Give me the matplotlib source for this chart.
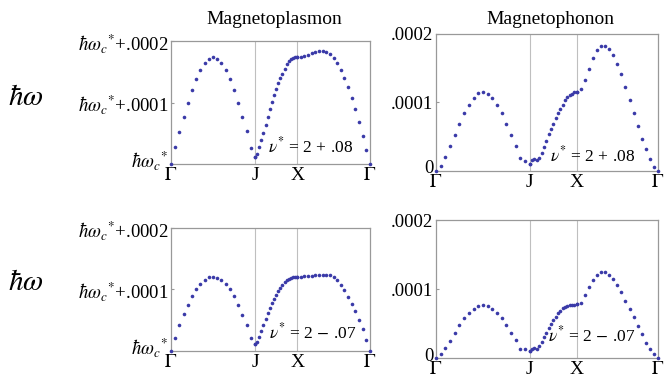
import numpy as np
import matplotlib
matplotlib.use('Agg')
import matplotlib.pyplot as plt
import matplotlib.transforms as mtransforms

plt.rcParams['font.family'] = ['Liberation Serif', 'DejaVu Serif']
plt.rcParams['mathtext.fontset'] = 'stix'

# k-path nodes: Gamma -> J -> X -> Gamma
NODE_POS = [0.0, 1.0, 1.5, 1.5 + np.sqrt(3) / 2]
NODE_LABELS = [r'$\Gamma$', 'J', 'X', r'$\Gamma$']
PTS_PER_SEG = 21

# energies in units of 1e-4 (above hbar*omega_c* for the plasmon panels)
plasmon_p08 = [
    [0.0, 0.27, 0.52, 0.77, 1.00, 1.21, 1.39, 1.53, 1.65, 1.71, 1.74,
     1.71, 1.65, 1.53, 1.39, 1.21, 1.00, 0.77, 0.53, 0.26, 0.12],
    [0.12, 0.16, 0.27, 0.39, 0.51, 0.64, 0.77, 0.90, 1.01, 1.12, 1.22,
     1.31, 1.40, 1.47, 1.55, 1.62, 1.67, 1.70, 1.72, 1.74, 1.74],
    [1.74, 1.745, 1.76, 1.78, 1.80, 1.82, 1.83, 1.83, 1.82, 1.79, 1.72,
     1.64, 1.53, 1.40, 1.25, 1.07, 0.89, 0.68, 0.455, 0.23, 0.0],
]
phonon_p08 = [
    [0.0, 0.073, 0.20, 0.36, 0.53, 0.69, 0.84, 0.97, 1.07, 1.14, 1.15,
     1.13, 1.07, 0.97, 0.84, 0.69, 0.53, 0.365, 0.195, 0.15, 0.10],
    [0.107, 0.156, 0.17, 0.16, 0.195, 0.26, 0.345, 0.44, 0.535, 0.61, 0.69,
     0.77, 0.84, 0.91, 0.97, 1.03, 1.075, 1.11, 1.13, 1.15, 1.16],
    [1.16, 1.20, 1.33, 1.49, 1.645, 1.76, 1.825, 1.83, 1.78, 1.69, 1.56,
     1.41, 1.22, 1.03, 0.84, 0.65, 0.47, 0.32, 0.175, 0.063, 0.0],
]
plasmon_m07 = [
    [0.0, 0.217, 0.417, 0.596, 0.753, 0.889, 1.00, 1.095, 1.16, 1.20, 1.21,
     1.19, 1.155, 1.095, 1.00, 0.89, 0.75, 0.59, 0.42, 0.21, 0.11],
    [0.108, 0.15, 0.23, 0.33, 0.43, 0.52, 0.61, 0.70, 0.78, 0.85, 0.916,
     0.976, 1.03, 1.08, 1.12, 1.155, 1.176, 1.19, 1.198, 1.203, 1.203],
    [1.203, 1.21, 1.214, 1.22, 1.225, 1.23, 1.236, 1.24, 1.24, 1.23, 1.198,
     1.15, 1.07, 0.986, 0.88, 0.76, 0.65, 0.50, 0.35, 0.18, 0.0],
]
phonon_m07 = [
    [0.0, 0.058, 0.15, 0.25, 0.367, 0.48, 0.58, 0.657, 0.715, 0.754, 0.763,
     0.754, 0.715, 0.652, 0.58, 0.48, 0.367, 0.256, 0.135, 0.126, 0.097],
    [0.10, 0.13, 0.145, 0.135, 0.17, 0.23, 0.30, 0.367, 0.43, 0.49, 0.546,
     0.60, 0.647, 0.686, 0.72, 0.744, 0.758, 0.768, 0.773, 0.773, 0.78],
    [0.78, 0.80, 0.91, 1.024, 1.125, 1.198, 1.246, 1.246, 1.208, 1.14, 1.058,
     0.961, 0.83, 0.71, 0.594, 0.464, 0.353, 0.222, 0.135, 0.058, 0.0],
]

plasmon_yticks = [r'$\hbar\omega_c{}^{*}$', r'$\hbar\omega_c{}^{*}$+.0001',
                  r'$\hbar\omega_c{}^{*}$+.0002']
phonon_yticks = ['0', '.0001', '.0002']
nu_labels = [r'$\nu^{*}$ = 2 + .08', r'$\nu^{*}$ = 2 $-$ .07']

DOT = '#3a3aa8'
GRID = '#bfbfbf'
SPINE = '#999999'


def draw_panel(ax, segs, yticklabels, note, note_xy, lift):
    for i, seg in enumerate(segs):
        x = np.linspace(NODE_POS[i], NODE_POS[i + 1], PTS_PER_SEG)
        ax.plot(x, seg, 'o', color=DOT, ms=2.6, mec='none', clip_on=False,
                zorder=3)
    for xv in NODE_POS[1:3]:
        ax.axvline(xv, color=GRID, lw=0.8, zorder=1)
    ax.set_xlim(NODE_POS[0], NODE_POS[-1])
    ax.set_ylim(0, 2)
    ax.set_xticks(NODE_POS)
    ax.set_xticklabels(NODE_LABELS, fontsize=14)
    ax.set_yticks([0, 1, 2])
    ax.set_yticklabels(yticklabels, fontsize=13.5)
    ax.tick_params(axis='x', length=0, pad=2)
    ax.tick_params(axis='y', length=2.5, direction='in', color=SPINE, pad=2)
    # lift the lowest y label a little so it sits above the Gamma label
    low = ax.get_yticklabels()[0]
    shift = mtransforms.ScaledTranslation(0, lift / 100, ax.figure.dpi_scale_trans)
    low.set_transform(low.get_transform() + shift)
    for s in ax.spines.values():
        s.set_color(SPINE)
        s.set_linewidth(0.9)
    ax.text(note_xy[0], note_xy[1], note, fontsize=12.5, va='center',
            ha='left', zorder=4)


fig = plt.figure(figsize=(6.64, 3.92), dpi=100)

ax_tl = fig.add_axes([0.2575, 0.5816, 0.2997, 0.3138])
ax_tr = fig.add_axes([0.6566, 0.5638, 0.3343, 0.3495])
ax_bl = fig.add_axes([0.2575, 0.1046, 0.2997, 0.3138])
ax_br = fig.add_axes([0.6566, 0.0867, 0.3343, 0.3520])

draw_panel(ax_tl, plasmon_p08, plasmon_yticks, nu_labels[0], (1.15, 0.29), 6)
draw_panel(ax_tr, phonon_p08, phonon_yticks, nu_labels[0], (1.21, 0.23), 4)
draw_panel(ax_bl, plasmon_m07, plasmon_yticks, nu_labels[1], (1.16, 0.31), 6)
draw_panel(ax_br, phonon_m07, phonon_yticks, nu_labels[1], (1.19, 0.33), 4)

fig.text(274 / 664, 1 - 20 / 392, 'Magnetoplasmon', fontsize=14,
         ha='center', va='center')
fig.text(550 / 664, 1 - 20 / 392, 'Magnetophonon', fontsize=14,
         ha='center', va='center')
fig.text(26 / 664, 1 - 98 / 392, r'$\hbar\omega$', fontsize=21,
         ha='center', va='center')
fig.text(26 / 664, 1 - 283 / 392, r'$\hbar\omega$', fontsize=21,
         ha='center', va='center')

fig.savefig('out.png', dpi=100)
